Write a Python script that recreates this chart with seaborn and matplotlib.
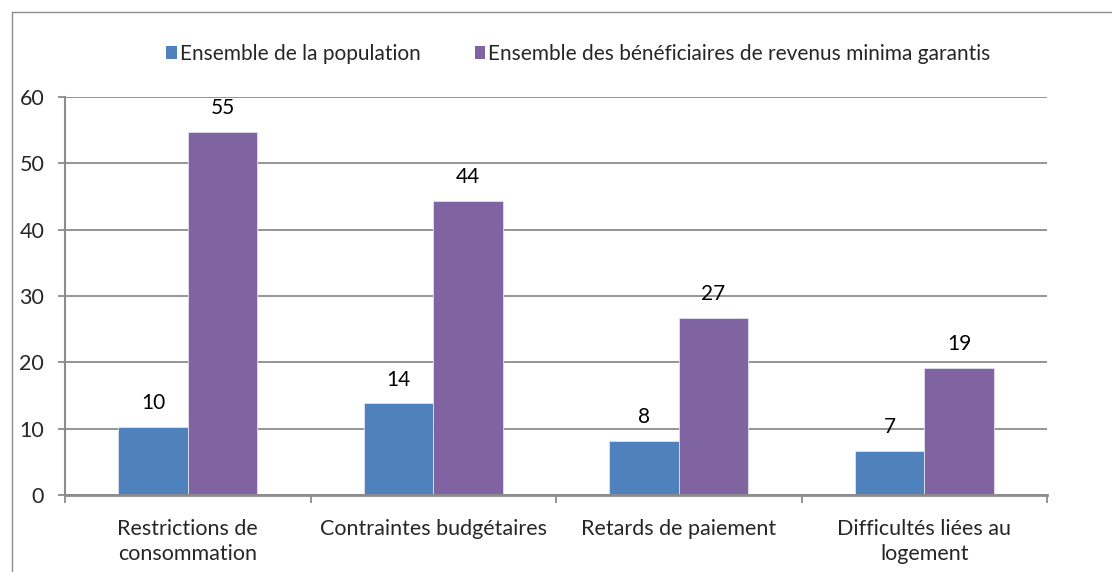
import matplotlib
matplotlib.use("Agg")
import matplotlib.pyplot as plt
import seaborn as sns
import pandas as pd
from matplotlib.lines import Line2D
from matplotlib.patches import Patch

categories = ["Restrictions de\nconsommation", "Contraintes budgétaires",
              "Retards de paiement", "Difficultés liées au\nlogement"]
series_names = ["Ensemble de la population",
                "Ensemble des bénéficiaires de revenus minima garantis"]
pop_values = [10.2, 13.8, 8.1, 6.6]
benef_values = [54.7, 44.3, 26.7, 19.1]
y_ticks = [0, 10, 20, 30, 40, 50, 60]
colors = ["#4F81BD", "#8064A2"]

df = pd.DataFrame({
    "cat": categories * 2,
    "serie": [series_names[0]] * 4 + [series_names[1]] * 4,
    "val": pop_values + benef_values,
})

sns.set_theme(style="white")
plt.rcParams["font.family"] = ["Lato", "DejaVu Sans"]

W, H = 1112, 572
fig = plt.figure(figsize=(W / 100, H / 100), dpi=100)
ax = fig.add_axes([65 / W, 1 - 495 / H, (1047 - 65) / W, (495 - 97) / H])

sns.barplot(data=df, x="cat", y="val", hue="serie", order=categories,
            hue_order=series_names, palette=colors, width=0.567,
            saturation=1, ax=ax, edgecolor="#DDE3F0", linewidth=0.6,
            legend=False, errorbar=None)

for cont in ax.containers:
    ax.bar_label(cont, fmt="%.0f", padding=10, fontsize=15, color="black")

ax.set_xlim(-0.5, 3.5)
ax.set_ylim(0, 60)
ax.set_yticks(y_ticks)
ax.set_yticklabels([str(v) for v in y_ticks])
ax.yaxis.grid(True, color="#8C8C8C", linewidth=1.3)
ax.set_axisbelow(True)
ax.set_xlabel("")
ax.set_ylabel("")

for s in ["top", "right"]:
    ax.spines[s].set_visible(False)
ax.spines["left"].set_color("#8C8C8C")
ax.spines["left"].set_linewidth(1.5)
ax.spines["bottom"].set_color("#8C8C8C")
ax.spines["bottom"].set_linewidth(2)

ax.tick_params(axis="y", length=5, width=1.3, color="#8C8C8C", pad=10,
               labelsize=15.5, left=True, direction="out")
ax.tick_params(axis="x", which="major", length=0, pad=17.5, labelsize=15.5)
ax.set_xticks([-0.5, 0.5, 1.5, 2.5, 3.5], minor=True)
ax.tick_params(axis="x", which="minor", length=6, width=1.3,
               color="#8C8C8C", bottom=True, direction="out")
for lbl in ax.get_xticklabels():
    lbl.set_horizontalalignment("center")
    lbl.set_linespacing(1.3)

handles = [Patch(facecolor=c, edgecolor="none") for c in colors]
fig.legend(handles, series_names, loc="center", bbox_to_anchor=(0.52, 1 - 54 / H),
           ncol=2, frameon=False, fontsize=15, handlelength=0.5,
           handleheight=0.55, handletextpad=0.15, columnspacing=2.6)

# outer chart frame (top and left visible)
fig.add_artist(Line2D([12 / W, 12 / W], [0, 1 - 12 / H], transform=fig.transFigure,
                      color="#8C8C8C", linewidth=1))
fig.add_artist(Line2D([12 / W, 1], [1 - 12 / H, 1 - 12 / H], transform=fig.transFigure,
                      color="#8C8C8C", linewidth=1))

fig.savefig("out.png", dpi=100)
